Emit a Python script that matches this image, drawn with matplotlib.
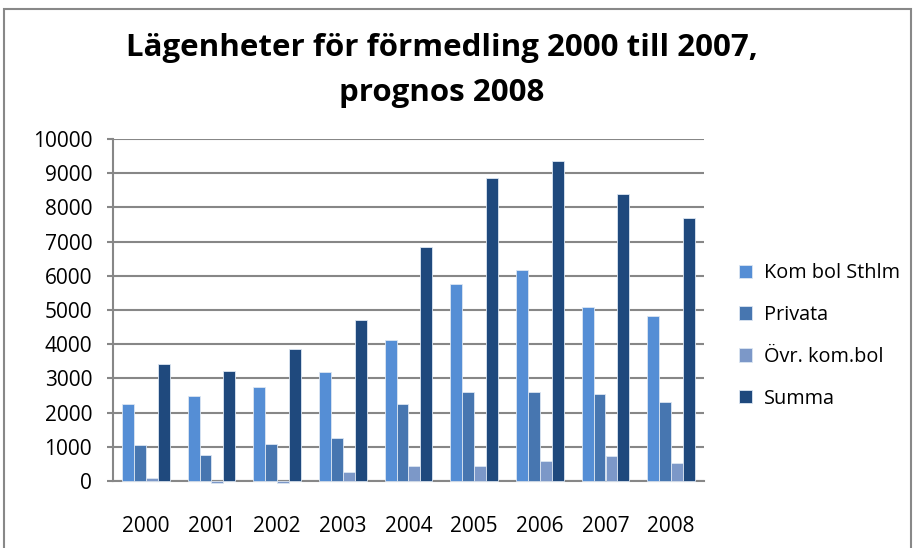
import numpy as np
import matplotlib.pyplot as plt
from matplotlib.patches import Rectangle

years = ['2000', '2001', '2002', '2003', '2004', '2005', '2006', '2007', '2008']
kom_bol = [2250, 2490, 2740, 3180, 4130, 5770, 6160, 5080, 4830]
privata = [1040, 760, 1090, 1250, 2250, 2600, 2600, 2540, 2310]
ovr_kom = [80, -50, -50, 270, 430, 430, 575, 720, 520]
summa = [3410, 3210, 3850, 4710, 6840, 8870, 9360, 8390, 7700]

series = [('Kom bol Sthlm', kom_bol, '#558ED5'),
          ('Privata', privata, '#4776B0'),
          ('Övr. kom.bol', ovr_kom, '#7C98C8'),
          ('Summa', summa, '#1F497D')]

plt.rcParams['font.family'] = ['Open Sans', 'DejaVu Sans']

fig = plt.figure(figsize=(9.15, 5.48), dpi=100)
ax = fig.add_axes([113 / 915, 1 - 481 / 548, (704 - 113) / 915, (481 - 139) / 548])

x = np.arange(len(years))
w = 1 / 5.5
for i, (name, vals, col) in enumerate(series):
    ax.bar(x + (i - 1.5) * w, vals, width=w, color=col, edgecolor='#DCE6F2',
           linewidth=0.6, label=name, zorder=3, clip_on=False)

ax.set_xlim(-0.5, len(years) - 0.5)
ax.set_ylim(0, 10000)
ax.set_yticks(np.arange(0, 10001, 1000))
ax.set_xticks(x)
ax.set_xticklabels(years)
ax.grid(axis='y', color='#878787', linewidth=1.5, zorder=0)
for s in ['top', 'right']:
    ax.spines[s].set_visible(False)
for s in ['left', 'bottom']:
    ax.spines[s].set_color('#878787')
    ax.spines[s].set_linewidth(1.5)
    ax.spines[s].set_zorder(2.5)
ax.tick_params(axis='y', length=4, color='#878787', width=1.5, pad=11, labelsize=15)
ax.tick_params(axis='x', length=0, pad=25, labelsize=15)

fig.text(0.483, 0.912, 'Lägenheter för förmedling 2000 till 2007,', ha='center',
         va='center', fontsize=22.5, fontweight='bold')
fig.text(0.483, 0.83, 'prognos 2008', ha='center', va='center',
         fontsize=22.5, fontweight='bold')

fig.legend(loc='center left', bbox_to_anchor=(721 / 915, 1 - 336 / 548), frameon=False,
           fontsize=14.3, handlelength=0.65, handleheight=0.65, handletextpad=0.6,
           labelspacing=1.1)

fig.patches.append(Rectangle((4 / 915, -0.01), 907 / 915, 1 - 9 / 548 + 0.01,
                             transform=fig.transFigure, fill=False,
                             edgecolor='#888888', linewidth=1.5))

fig.savefig('out.png', dpi=100)
